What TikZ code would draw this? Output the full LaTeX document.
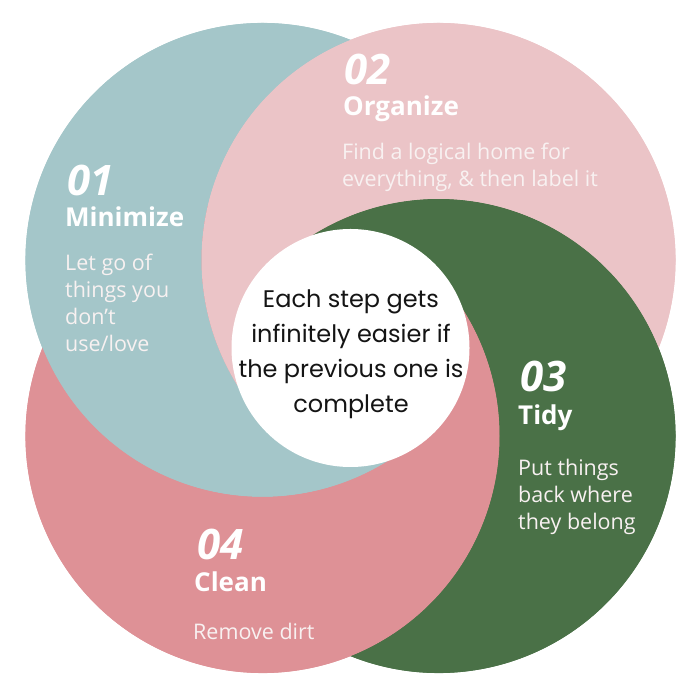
\documentclass[tikz,border=0pt]{standalone}
\usepackage{fontspec}
\setsansfont{Open Sans}
\newfontfamily\mottofont{Poppins}
\usepackage{xcolor}
\usepackage{tikz}
\definecolor{tealc}{HTML}{A4C6C9}
\definecolor{blushc}{HTML}{EBC4C7}
\definecolor{forestc}{HTML}{4A7147}
\definecolor{rosec}{HTML}{DE9196}
\definecolor{chalk}{HTML}{F8F1F1}
\definecolor{inkc}{HTML}{141414}

\tikzset{
  stepnum/.style={anchor=base west, inner sep=0pt, text=white,
    font=\sffamily\bfseries\itshape\fontsize{42}{42}\selectfont},
  steptitle/.style={anchor=base west, inner sep=0pt, text=white,
    font=\sffamily\bfseries\fontsize{26}{26}\selectfont},
  steptext/.style={anchor=base west, inner sep=0pt, align=left, text=chalk,
    font=\sffamily\fontsize{21.5}{27.3}\selectfont},
  motto/.style={inner sep=0pt, align=center, text=inkc,
    font=\mottofont\fontsize{24}{35}\selectfont},
}

\begin{document}
\begin{tikzpicture}[x=1pt,y=1pt]
    \useasboundingbox (0,0) rectangle (693,693);
    \coordinate (hub) at (350.5,345);
    \coordinate (c1) at (262.5,433);
    \coordinate (c2) at (438.5,433);
    \coordinate (c3) at (438.5,257);
    \coordinate (c4) at (262.5,257);
    % where two rims cross, and where each rim runs into the hole
    \coordinate (p12) at ([shift={(68.2:237)}]c1);
    \coordinate (p23) at ([shift={(-21.8:237)}]c2);
    \coordinate (p34) at ([shift={(-111.8:237)}]c3);
    \coordinate (p41) at ([shift={(158.2:237)}]c4);
    \coordinate (w1) at ([shift={(302.08:237)}]c1);
    \coordinate (w2) at ([shift={(212.08:237)}]c2);
    \coordinate (w3) at ([shift={(122.08:237)}]c3);
    \coordinate (w4) at ([shift={(32.08:237)}]c4);
    % full discs underneath
    \fill[tealc] (c1) circle (237);
    \fill[blushc] (c2) circle (237);
    \fill[forestc] (c3) circle (237);
    \fill[rosec] (c4) circle (237);
    % each step lies over the one before it
    \fill[tealc] (p12) arc[start angle=68.2, end angle=302.08, radius=237]
      -- (w2) arc[start angle=212.08, end angle=111.8, radius=237] -- cycle;
    \fill[blushc] (p23) arc[start angle=-21.8, end angle=212.08, radius=237]
      -- (w3) arc[start angle=122.08, end angle=21.8, radius=237] -- cycle;
    \fill[forestc] (p34) arc[start angle=-111.8, end angle=122.08, radius=237]
      -- (w4) arc[start angle=32.08, end angle=-68.2, radius=237] -- cycle;
    \fill[rosec] (p41) arc[start angle=158.2, end angle=392.08, radius=237]
      -- (w1) arc[start angle=302.08, end angle=201.8, radius=237] -- cycle;
    \node[circle, fill=white, inner sep=0pt, minimum size=238] (core) at (hub) {};
    \node[motto] (blurb) at (351,339) {Each step gets\\infinitely easier if\\the previous one is\\complete};

    \node[stepnum] (num1) at (67,497) {01};
    \node[steptitle] (title1) at (65,466) {Minimize};
    \node[steptext] (text1) at (65,341) {Let go of\\things you\\don’t\\use/love};

    \node[stepnum] (num2) at (344,608) {02};
    \node[steptitle] (title2) at (343,577) {Organize};
    \node[steptext] (text2) at (342,506) {Find a logical home for\\everything, \& then label it};

    \node[stepnum] (num3) at (520,301) {03};
    \node[steptitle] (title3) at (518,268) {Tidy};
    \node[steptext] (text3) at (518,163) {Put things\\back where\\they belong};

    \node[stepnum] (num4) at (197,133) {04};
    \node[steptitle] (title4) at (194,101) {Clean};
    \node[steptext] (text4) at (193,53) {Remove dirt};
  \end{tikzpicture}
\end{document}
